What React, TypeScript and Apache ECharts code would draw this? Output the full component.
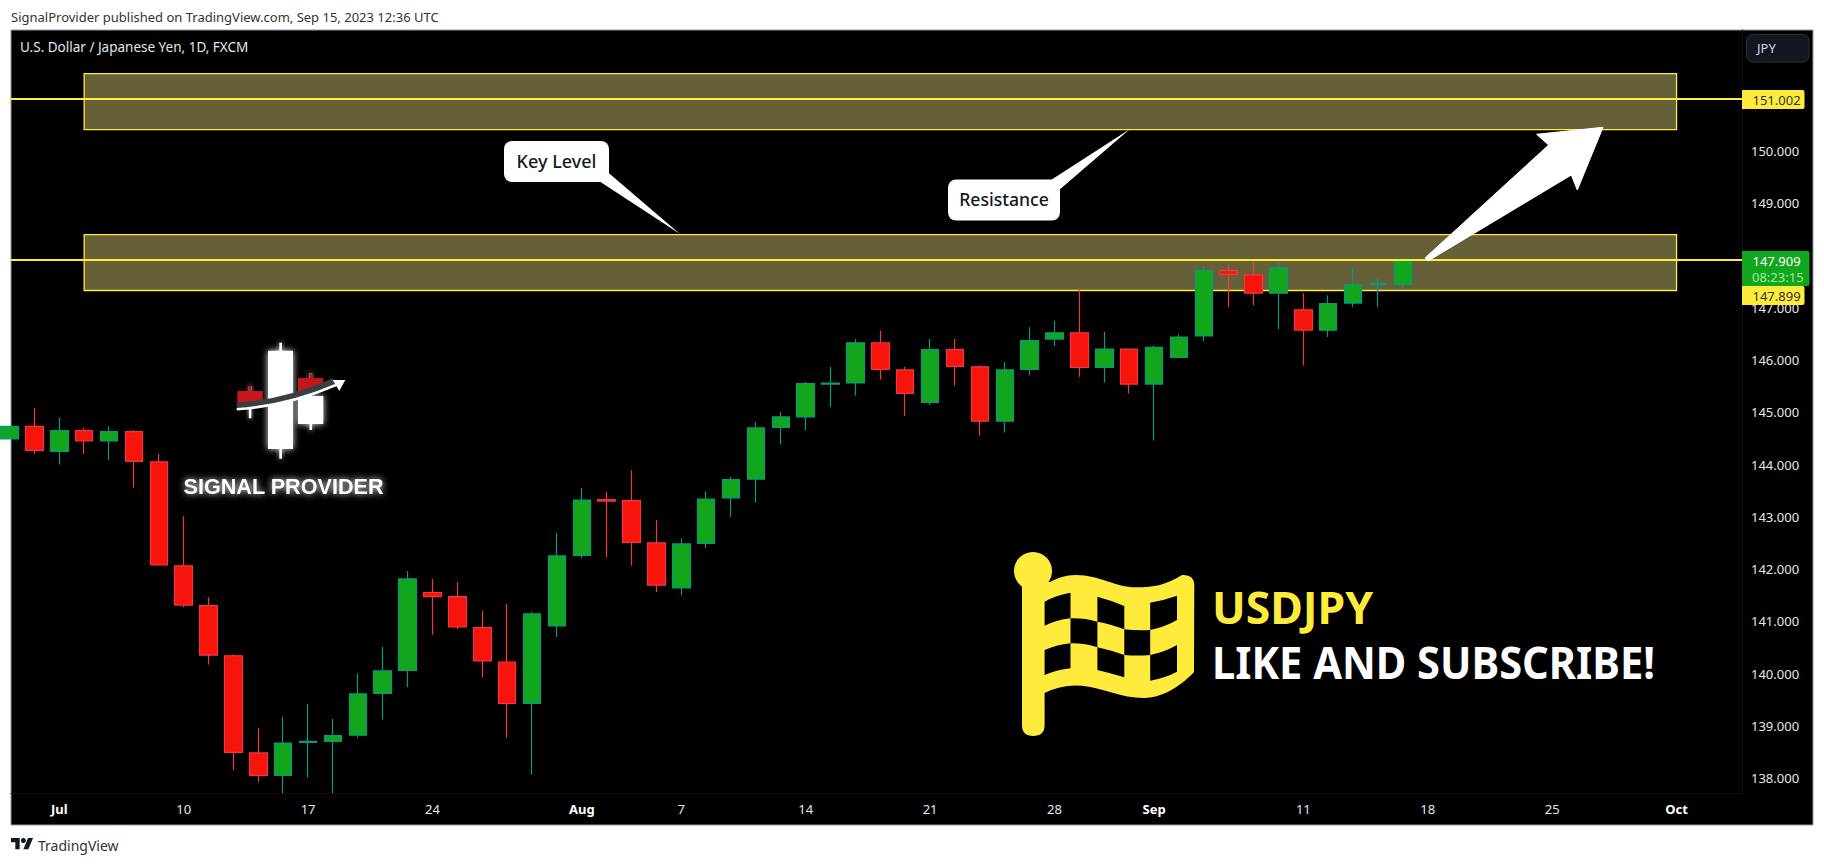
import React, { useEffect, useRef } from "react";
import * as echarts from "echarts";

// [trading-day index, open, close, low, high]
const candles: number[][] = [
  [0, 144.49, 144.73, 144.49, 144.73],
  [1, 144.73, 144.27, 144.2, 145.08],
  [2, 144.25, 144.65, 144.0, 144.9],
  [3, 144.65, 144.45, 144.2, 144.7],
  [4, 144.45, 144.63, 144.09, 144.73],
  [5, 144.63, 144.06, 143.56, 144.66],
  [6, 144.05, 142.08, 142.08, 144.2],
  [7, 142.06, 141.31, 141.27, 143.01],
  [8, 141.3, 140.35, 140.17, 141.46],
  [9, 140.34, 138.49, 138.15, 140.37],
  [10, 138.48, 138.05, 137.92, 138.96],
  [11, 138.05, 138.67, 137.71, 139.17],
  [12, 138.68, 138.7, 138.01, 139.42],
  [13, 138.7, 138.81, 137.71, 139.13],
  [14, 138.82, 139.61, 138.77, 139.99],
  [15, 139.62, 140.05, 139.12, 140.51],
  [16, 140.06, 141.81, 139.74, 141.96],
  [17, 141.55, 141.47, 140.74, 141.81],
  [18, 141.47, 140.89, 140.85, 141.75],
  [19, 140.88, 140.24, 139.93, 141.2],
  [20, 140.22, 139.43, 138.77, 141.33],
  [21, 139.43, 141.14, 138.06, 141.18],
  [22, 140.91, 142.25, 140.7, 142.69],
  [23, 142.26, 143.32, 142.21, 143.55],
  [24, 143.33, 143.3, 142.23, 143.47],
  [25, 143.31, 142.51, 142.06, 143.89],
  [26, 142.5, 141.69, 141.56, 142.94],
  [27, 141.64, 142.48, 141.5, 142.59],
  [28, 142.49, 143.34, 142.4, 143.49],
  [29, 143.36, 143.71, 143.0, 143.76],
  [30, 143.72, 144.7, 143.27, 144.81],
  [31, 144.71, 144.91, 144.39, 145.01],
  [32, 144.91, 145.55, 144.65, 145.58],
  [33, 145.54, 145.56, 145.1, 145.87],
  [34, 145.56, 146.33, 145.32, 146.4],
  [35, 146.33, 145.82, 145.62, 146.56],
  [36, 145.81, 145.36, 144.93, 145.87],
  [37, 145.19, 146.2, 145.14, 146.4],
  [38, 146.2, 145.88, 145.51, 146.4],
  [39, 145.87, 144.83, 144.55, 145.9],
  [40, 144.83, 145.81, 144.61, 145.96],
  [41, 145.82, 146.37, 145.71, 146.63],
  [42, 146.4, 146.52, 146.27, 146.75],
  [43, 146.52, 145.86, 145.68, 147.37],
  [44, 145.86, 146.21, 145.57, 146.54],
  [45, 146.21, 145.54, 145.36, 146.21],
  [46, 145.54, 146.24, 144.46, 146.28],
  [47, 146.05, 146.44, 146.03, 146.49],
  [48, 146.46, 147.71, 146.36, 147.8],
  [49, 147.71, 147.64, 147.01, 147.82],
  [50, 147.63, 147.28, 147.05, 147.88],
  [51, 147.28, 147.76, 146.59, 147.88],
  [52, 146.96, 146.57, 145.9, 147.28],
  [53, 146.57, 147.08, 146.44, 147.24],
  [54, 147.09, 147.44, 147.01, 147.74],
  [55, 147.44, 147.46, 147.01, 147.57],
  [56, 147.45, 147.9, 147.34, 147.95],
];

const timeTickIndex = [2, 7, 12, 17, 23, 27, 32, 37, 42, 46, 52, 57, 62, 67];
const timeTickLabels = ["Jul", "10", "17", "24", "Aug", "7", "14", "21", "28", "Sep", "11", "18", "25", "Oct"];
const monthLabels = ["Jul", "Aug", "Sep", "Oct"];
const priceTicks = [138, 139, 140, 141, 142, 143, 144, 145, 146, 147, 148, 149, 150, 151];

// zones: [first index, last index, upper price, lower price]
const resistanceZone = [3, 67, 151.48, 150.41];
const keyLevelZone = [3, 67, 148.4, 147.33];
const horizontalLevels = [151.002, 147.909];

const PANEL_TEXT = "#e4e6ea";
const GREEN = "#12A61C";
const GREEN_EDGE = "#089981";
const RED = "#F7150B";
const RED_EDGE = "#F23645";
const YELLOW = "#FFEB3B";
const ZONE_FILL = "#666039";
const FONT = '"Noto Sans"';

const FLAG_BODY =
  "M1022 582 L1022 725 Q1022 736 1033 736 Q1044.6 736 1044.6 725 L1044.6 693 Q1062 684 1082 685.7 C1105 688 1120 698 1144 698 C1165 698 1185 682 1194 672 L1194.3 585 Q1194 574 1182 575 C1165 585 1155 587.3 1136 587.3 C1115 587.3 1100 575 1075.9 575 C1065 575 1058 578 1050 582 Z";
const FLAG_HOLES =
  "M1044.6 601.7 Q1056 595 1070.5 592.7 L1070.5 618.3 Q1056 620 1044.6 625.7 Z " +
  "M1097.4 596.7 Q1110 600 1124.3 606 L1124.3 629.3 Q1110 624 1097.4 621.7 Z " +
  "M1150.2 602.7 Q1165 600 1177 595.7 L1177 620 Q1165 627 1150.2 630 Z " +
  "M1070.5 618.3 Q1085 618 1097.4 621.7 L1097.4 647.3 Q1085 643 1070.5 643.3 Z " +
  "M1124.3 629.3 Q1137 631 1150.2 630 L1150.2 655 Q1137 656 1124.3 655 Z " +
  "M1044.6 650 Q1056 645 1070.5 643.3 L1070.5 668.3 Q1056 670 1044.6 675 Z " +
  "M1097.4 647.3 Q1110 650 1124.3 655 L1124.3 677.3 Q1110 673 1097.4 670 Z " +
  "M1150.2 655 Q1165 652 1177 645 L1177 671.7 Q1165 678 1150.2 680.7 Z";
const TV_LOGO = "M14 22H7V11H0V4h14v18zM28 22h-8l7.5-18h8L28 22z";

echarts.graphic.registerShape("usdjpyFlag", echarts.graphic.extendPath(FLAG_BODY, {}));
echarts.graphic.registerShape("usdjpyFlagHoles", echarts.graphic.extendPath(FLAG_HOLES, {}));
echarts.graphic.registerShape("tvLogo", echarts.graphic.extendPath(TV_LOGO, {}));

const txt = (text: string, x: number, y: number, size: number, fill: string, extra: any = {}) => ({
  type: "text",
  x,
  y,
  z: 30,
  scaleX: extra.scaleX ?? 1,
  style: {
    text,
    fill,
    font: `${extra.weight || "normal"} ${size}px ${extra.family || FONT}`,
    align: extra.align || "left",
    verticalAlign: "middle",
    ...(extra.style || {}),
  },
});

const glow = { shadowBlur: 7, shadowColor: "rgba(255,255,255,0.9)" };
const box = (x: number, y: number, width: number, height: number, fill: string, extra: any = {}) => ({
  type: "rect",
  z: 20,
  shape: { x, y, width, height, r: extra.r || 0 },
  style: { fill, ...(extra.style || {}) },
});

const logoElements = [
  box(279.3, 342.7, 2.6, 116, "#fff", { style: glow }),
  box(268, 350.7, 25, 98.3, "#fff", { style: glow }),
  box(309.5, 373.3, 2.6, 56.7, "#fff", { style: glow }),
  box(298, 396, 25.3, 28, "#fff", { style: glow }),
  box(309.5, 373.3, 2.6, 6, "#C4161C"),
  { type: "polygon", z: 20, shape: { points: [[298, 378], [323.3, 378], [323.3, 388], [298, 395]] }, style: { fill: "#C4161C" } },
  box(248.8, 386, 2.6, 32.3, "#fff", { style: glow }),
  box(248.8, 386, 2.6, 6, "#C4161C"),
  { type: "polygon", z: 20, shape: { points: [[237.3, 391], [262.7, 391], [262.7, 401], [237.3, 403.5]] }, style: { fill: "#C4161C" } },
  { type: "bezierCurve", z: 21, shape: { x1: 236.7, y1: 405.5, x2: 334, y2: 381, cpx1: 285, cpy1: 403 }, style: { stroke: "#3A3D42", lineWidth: 6, fill: "none" } },
  { type: "bezierCurve", z: 21, shape: { x1: 236.7, y1: 409.3, x2: 336, y2: 385, cpx1: 287, cpy1: 406 }, style: { stroke: "#fff", lineWidth: 2.6, fill: "none" } },
  { type: "polygon", z: 21, shape: { points: [[332.7, 380], [345.3, 380], [339.3, 391]] }, style: { fill: "#fff" } },
  txt("SIGNAL PROVIDER", 183.5, 486, 21.6, "#fff", { family: '"Liberation Sans"', weight: "bold", style: { textShadowBlur: 7, textShadowColor: "rgba(255,255,255,0.9)", shadowBlur: 7, shadowColor: "rgba(255,255,255,0.9)" } }),
];

const calloutElements = [
  { type: "polygon", z: 20, shape: { points: [[600.5, 182], [609, 173.3], [680, 234]] }, style: { fill: "#fff" } },
  box(504, 141, 105, 41, "#fff", { r: 8 }),
  txt("Key Level", 556.5, 161, 18, "#131722", { align: "center", weight: 500 }),
  { type: "polygon", z: 20, shape: { points: [[1051, 180], [1060, 189.3], [1130, 129]] }, style: { fill: "#fff" } },
  box(948, 179.5, 112, 41, "#fff", { r: 8 }),
  txt("Resistance", 1004, 199, 17.6, "#131722", { align: "center", weight: 500 }),
  {
    type: "polygon",
    z: 20,
    shape: { points: [[1425, 258], [1548.6, 145], [1536.6, 134.3], [1603, 127.3], [1577.3, 190], [1571.3, 175], [1428, 261]] },
    style: { fill: "#fff", stroke: "#fff", lineWidth: 1, lineJoin: "round" },
  },
];

const promoElements = [
  { type: "circle", z: 20, shape: { cx: 1033, cy: 571, r: 19 }, style: { fill: YELLOW } },
  { type: "usdjpyFlag", z: 20, x: 0, y: 0, scaleX: 1, scaleY: 1, style: { fill: YELLOW } },
  { type: "usdjpyFlagHoles", z: 21, x: 0, y: 0, scaleX: 1, scaleY: 1, style: { fill: "#000" } },
  txt("USDJPY", 1212, 606, 45, YELLOW, { weight: "bold", scaleX: 0.99 }),
  txt("LIKE AND SUBSCRIBE!", 1212, 662, 45, "#fff", { weight: "bold", scaleX: 0.925 }),
];

const priceTagElements = [
  box(1742, 90, 62.5, 19, YELLOW, { r: [0, 2, 2, 0] }),
  txt("151.002", 1752.5, 100, 13, "#333"),
  box(1742, 251, 67.5, 35, GREEN, { r: [0, 2, 2, 0] }),
  txt("147.909", 1752.5, 261, 13, "#fff"),
  txt("08:23:15", 1752, 277, 13, "#A5E6A9"),
  box(1742, 286, 62.5, 19, YELLOW, { r: [0, 2, 2, 0] }),
  txt("147.899", 1752.5, 296, 13, "#333"),
];

const frameElements = [
  { type: "rect", z: -1, shape: { x: 11, y: 30, width: 1802, height: 795 }, style: { fill: "#000", stroke: "#9598A1", lineWidth: 1 } },
  txt("SignalProvider published on TradingView.com, Sep 15, 2023 12:36 UTC", 11, 17, 13, "#333"),
  txt("U.S. Dollar / Japanese Yen, 1D, FXCM", 20, 47, 13.5, PANEL_TEXT),
  { type: "rect", z: 20, shape: { x: 1746.5, y: 34.5, width: 62.5, height: 27.5, r: 6 }, style: { fill: "#131722", stroke: "#2A2E39", lineWidth: 1 } },
  txt("JPY", 1757, 48, 13, "#D1D4DC"),
  { type: "tvLogo", z: 20, x: 11, y: 835.5, scaleX: 0.62, scaleY: 0.62, style: { fill: "#131722" } },
  { type: "circle", z: 20, shape: { cx: 23.4, cy: 840.5, r: 2.5 }, style: { fill: "#131722" } },
  txt("TradingView", 38, 845, 14, "#333"),
];

export default function App() {
  const ref = useRef<HTMLDivElement>(null);
  useEffect(() => {
    if (!ref.current) return;
    const chart = echarts.init(ref.current, undefined, { renderer: "svg" });
    chart.setOption({
      animation: false,
      backgroundColor: "#fff",
      grid: { left: 11, top: 30, width: 1731, height: 763, containLabel: false },
      xAxis: {
        type: "value",
        min: 0.06,
        max: 69.63,
        splitLine: { show: false },
        axisTick: { show: false },
        axisLine: { show: true, lineStyle: { color: "#101010" } },
        axisLabel: {
          customValues: timeTickIndex,
          margin: 9,
          color: PANEL_TEXT,
          fontFamily: FONT,
          fontSize: 13,
          hideOverlap: false,
          showMinLabel: true,
          showMaxLabel: true,
          formatter: (v: number) => {
            const label = timeTickLabels[timeTickIndex.indexOf(v)] ?? "";
            return monthLabels.includes(label) ? `{m|${label}}` : label;
          },
          rich: { m: { fontWeight: "bold", color: "#fff", fontFamily: FONT, fontSize: 13 } },
        },
      },
      yAxis: {
        type: "value",
        position: "right",
        min: 137.713,
        max: 152.316,
        scale: true,
        splitLine: { show: false },
        axisTick: { show: false },
        axisLine: { show: true, lineStyle: { color: "#101010" } },
        axisLabel: {
          customValues: priceTicks,
          margin: 9,
          color: PANEL_TEXT,
          fontFamily: FONT,
          fontSize: 13,
          formatter: (v: number) => v.toFixed(3),
        },
      },
      series: [
        {
          type: "line",
          z: 1,
          data: [],
          silent: true,
          markArea: {
            silent: true,
            itemStyle: { color: ZONE_FILL, borderColor: YELLOW, borderWidth: 1.3 },
            label: { show: false },
            data: [resistanceZone, keyLevelZone].map((zone) => [
              { xAxis: zone[0], yAxis: zone[2] },
              { xAxis: zone[1], yAxis: zone[3] },
            ]),
          },
          markLine: {
            silent: true,
            symbol: "none",
            label: { show: false },
            lineStyle: { color: YELLOW, width: 2, type: "solid" },
            data: horizontalLevels.map((level) => ({ yAxis: level })),
          },
        },
        {
          type: "candlestick",
          z: 3,
          data: candles,
          encode: { x: 0, y: [1, 2, 3, 4] },
          barWidth: 18,
          clip: true,
          itemStyle: {
            color: GREEN,
            color0: RED,
            borderColor: GREEN_EDGE,
            borderColor0: RED_EDGE,
            borderWidth: 1.2,
          },
        },
      ],
      graphic: {
        elements: [
          ...frameElements,
          ...logoElements,
          ...calloutElements,
          ...promoElements,
          ...priceTagElements,
        ],
      },
    });
    return () => chart.dispose();
  }, []);
  return <div ref={ref} style={{ position: "absolute", left: 0, top: 0, width: 1824, height: 864 }} />;
}
